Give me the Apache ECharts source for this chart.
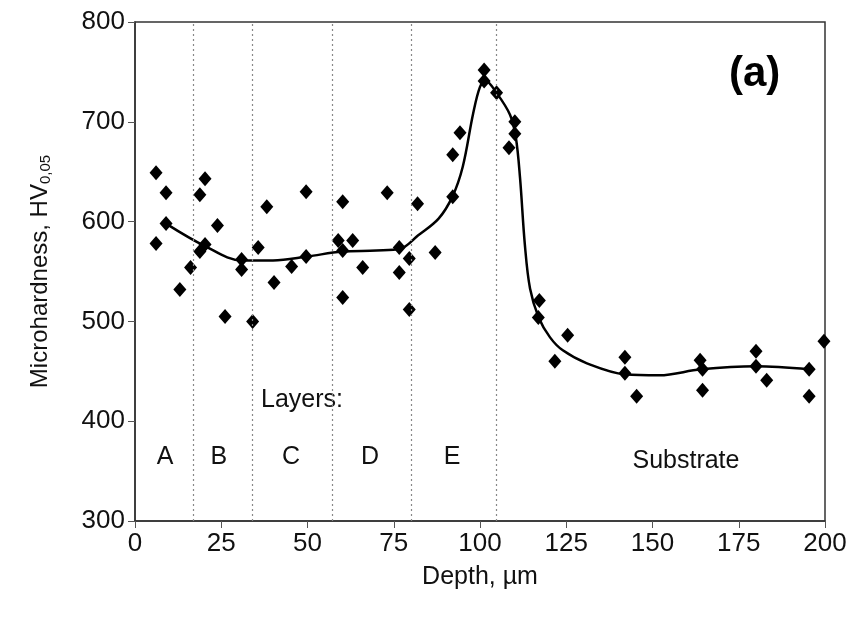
<!DOCTYPE html>
<html>
<head>
<meta charset="utf-8">
<script src="https://cdn.jsdelivr.net/npm/echarts@6/dist/echarts.min.js"></script>
<style>
  html, body { margin: 0; padding: 0; background: #fff; }
  #chart { width: 854px; height: 624px; }
</style>
</head>
<body>
<div id="chart"></div>
<script>
// measured hardness points [depth µm, HV]
const measured = [
  [6.1, 649], [9.0, 629], [9.0, 598], [6.1, 578], [13.0, 532], [16.1, 554],
  [20.3, 643], [18.8, 627], [20.3, 577], [18.8, 570], [23.9, 596], [26.1, 505],
  [30.9, 562], [30.9, 552], [34.1, 500], [35.7, 574], [38.2, 615], [40.3, 539],
  [45.4, 555], [49.6, 630], [49.6, 565], [60.2, 620], [58.9, 581], [60.2, 571],
  [63.1, 581], [60.2, 524], [66.0, 554], [73.1, 629], [76.6, 574], [76.6, 549],
  [79.5, 563], [79.5, 512], [81.9, 618], [87.0, 569], [92.1, 625], [92.1, 667],
  [94.2, 689], [101.2, 752], [101.2, 741], [104.8, 729], [110.1, 700], [110.1, 688],
  [108.4, 674], [117.2, 521], [116.9, 504], [125.4, 486], [121.7, 460],
  [142.0, 464], [142.0, 448], [145.4, 425], [163.8, 461], [164.5, 452], [164.5, 431],
  [180.0, 470], [180.0, 455], [183.1, 441], [195.4, 452], [195.4, 425], [199.7, 480]
];

// trend curve through the data
const trend = [
  [9, 598], [20, 576], [31, 561], [40, 561], [50, 565], [60, 570], [70, 571],
  [77, 573], [82, 586], [88, 603], [92, 625], [95, 655], [98, 708], [100, 735],
  [101.6, 741], [104.8, 729], [108.7, 707], [110.4, 684], [111.6, 644], [113, 577],
  [114.5, 533], [117, 504], [120.3, 484], [124, 471], [131, 458], [142, 447],
  [152, 446], [164, 452], [180, 455], [195.4, 452]
];

// layer boundaries (µm)
const boundaries = [17, 34, 57.3, 80, 104.8];

// text annotations [x, y, text]
const layerLabels = [
  [8.7, 364, 'A'], [24.3, 364, 'B'], [45.2, 364, 'C'], [68.1, 364, 'D'], [91.9, 364, 'E'],
  [48.4, 421, 'Layers:'], [159.7, 360, 'Substrate']
];
const panelTag = [[179.6, 747, '(a)']];

const xTicks = [0, 25, 50, 75, 100, 125, 150, 175, 200];
const yTicks = [300, 400, 500, 600, 700, 800];

const font = 'Arial, "Liberation Sans", sans-serif';
const chart = echarts.init(document.getElementById('chart'));

chart.setOption({
  animation: false,
  grid: {
    left: 135, right: 29, top: 22, bottom: 103,
    show: true, borderColor: '#333', borderWidth: 1.5, backgroundColor: '#fff'
  },
  xAxis: {
    type: 'value',
    min: xTicks[0], max: xTicks[xTicks.length - 1], interval: 25,
    name: 'Depth, µm',
    nameLocation: 'middle', nameGap: 44,
    nameTextStyle: { fontFamily: font, fontSize: 25, color: '#111' },
    axisLine: { lineStyle: { color: '#333', width: 1.5 } },
    axisTick: { show: true, inside: false, length: 7, lineStyle: { color: '#555' } },
    axisLabel: { fontFamily: font, fontSize: 26, color: '#111', margin: 10 },
    splitLine: { show: false }
  },
  yAxis: {
    type: 'value',
    min: yTicks[0], max: yTicks[yTicks.length - 1], interval: 100,
    name: '{a|Microhardness, HV}{s|0,05}',
    nameLocation: 'middle', nameGap: 81, nameRotate: 90,
    nameTextStyle: {
      fontFamily: font, fontSize: 24, color: '#111',
      rich: {
        a: { fontFamily: font, fontSize: 24, color: '#111', lineHeight: 28 },
        s: { fontFamily: font, fontSize: 15, color: '#111', padding: [11, 0, 0, 0], lineHeight: 28 }
      }
    },
    axisLine: { show: true, lineStyle: { color: '#333', width: 1.5 } },
    axisTick: { show: true, inside: false, length: 7, lineStyle: { color: '#555' } },
    axisLabel: { fontFamily: font, fontSize: 26, color: '#111', margin: 10 },
    splitLine: { show: false }
  },
  series: [
    {
      type: 'line',
      data: trend,
      smooth: 0.35,
      symbol: 'none',
      lineStyle: { color: '#000', width: 2.5 },
      z: 3,
      markLine: {
        silent: true,
        symbol: 'none',
        label: { show: false },
        lineStyle: { color: '#888', type: [2, 3], width: 1.2 },
        data: boundaries.map((b) => ({ xAxis: b }))
      }
    },
    {
      type: 'scatter',
      data: measured,
      symbol: 'diamond',
      symbolSize: [13, 15],
      itemStyle: { color: '#000', opacity: 1 },
      z: 4
    },
    {
      type: 'scatter',
      data: layerLabels,
      symbolSize: 0,
      silent: true,
      itemStyle: { opacity: 1 },
      label: {
        show: true, position: 'inside', formatter: (p) => p.data[2],
        fontFamily: font, fontSize: 25, color: '#111', textBorderWidth: 0
      }
    },
    {
      type: 'scatter',
      data: panelTag,
      symbolSize: 0,
      silent: true,
      itemStyle: { opacity: 1 },
      label: {
        show: true, position: 'inside', formatter: (p) => p.data[2],
        fontFamily: font, fontSize: 42, fontWeight: 'bold', color: '#000', textBorderWidth: 0
      }
    }
  ]
});

window.addEventListener('resize', () => chart.resize());
</script>
</body>
</html>
